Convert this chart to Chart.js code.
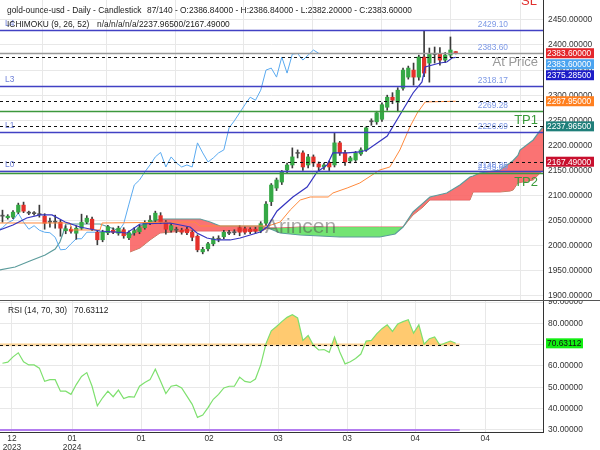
<!DOCTYPE html>
<html>
<head>
<meta charset="utf-8">
<script src="https://cdn.jsdelivr.net/npm/chart.js@4.4.1/dist/chart.umd.min.js"></script>
<style>
body { margin: 0; background: #fff; }
#wrap { position: relative; width: 600px; height: 450px; }
canvas { position: absolute; left: 0; }
#cMain { top: 0; }
#cRsi { top: 300px; }
</style>
</head>
<body>
<div id="wrap">
  <canvas id="cMain" width="600" height="300"></canvas>
  <canvas id="cRsi" width="600" height="150"></canvas>
</div>
<script>
// daily candles, bar 0 .. bar 86 (last one is the live bar)
const opens  = [2059,2056,2057,2067,2081,2067,2066,2063,2059,2047,2047,2047,2030,2033,2025,2035,2047,2053,2027,2012,
                2026,2031,2025,2032,2016,2026,2028,2036,2046,2051,2060,2047,2031,2032,2031,2033,2027,2019,1988,1994,
                2004,2013,2018,2025,2026,2036,2034,2033,2033,2030,2045,2088,2115,2127,2151,2161,2184,2185,2161,2177,
                2163,2157,2165,2161,2205,2185,2169,2171,2183,2191,2247,2247,2252,2276,2296,2286,2314,2336,2350,2336,
                2376,2364,2381,2382,2370,2380,2386.84];
const highs  = [2071,2062,2070,2085,2087,2069,2068,2081,2064,2055,2061,2051,2040,2038,2040,2063,2060,2057,2030,2031,
                2041,2036,2039,2036,2030,2036,2042,2050,2060,2069,2066,2050,2044,2037,2035,2037,2030,2022,1997,2007,
                2018,2020,2031,2031,2032,2040,2038,2036,2037,2048,2088,2124,2135,2150,2165,2195,2191,2189,2182,2181,
                2167,2165,2169,2225,2208,2190,2178,2188,2195,2237,2253,2268,2285,2300,2305,2315,2354,2358,2364,2380,
                2429.1,2394,2396,2395,2385,2416,2386.84];
const lows   = [2047,2053,2054,2064,2066,2062,2061,2057,2033,2037,2035,2019,2024,2025,2013,2032,2044,2030,2002,2008,
                2022,2024,2021,2015,2012,2021,2024,2033,2042,2047,2044,2023,2027,2026,2023,2022,2010,1988,1984,1990,
                2000,2008,2014,2022,2022,2020,2023,2024,2025,2026,2040,2080,2110,2122,2145,2155,2175,2150,2155,2158,
                2150,2152,2150,2157,2180,2160,2165,2168,2180,2188,2240,2242,2248,2270,2283,2267,2310,2332,2320,2330,
                2337,2326,2364,2360,2365,2376,2382.2];
const closes = [2060,2059,2067,2081,2069,2065,2064,2062,2045,2047,2049,2035,2034,2029,2035,2047,2055,2033,2012,2027,
                2038,2027,2035,2020,2026,2030,2036,2046,2051,2065,2047,2033,2040,2031,2027,2026,2017,1992,1993,2004,
                2014,2014,2027,2027,2027,2027,2027,2028,2029,2044,2083,2121,2131,2147,2161,2177,2186,2157,2177,2165,
                2157,2161,2157,2205,2185,2167,2175,2185,2191,2235,2249,2265,2281,2296,2290,2310,2350,2354,2336,2376,
                2344,2382,2383,2370,2380,2390,2383.6];

// ichimoku lines, [bar, price]
const tenkan = [[-0.5,2031.5],[2.0,2041.4],[4.6,2055.4],[7.1,2061.4],[9.4,2061.4],[11.9,2047.4],[14.7,2037.4],
                [18.5,2029.5],[23.6,2025.5],[26.1,2043.4],[31.8,2045.4],[35.6,2037.4],[36.9,2025.5],[38.8,2015.5],
                [40.7,2011.6],[43.2,2011.6],[45.1,2015.5],[47.0,2021.5],[48.9,2027.5],[50.2,2037.4],[52.1,2069.3],
                [55.1,2097.2],[57.8,2117.1],[59.7,2147.0],[61.6,2161.0],[62.7,2184.9],[65.4,2184.9],[67.8,2186.9],
                [69.2,2190.8],[71.1,2204.8],[73.0,2218.7],[75.4,2260.6],[77.9,2304.4],[79.6,2326.3],[80.2,2356.2],
                [83.0,2364.1],[84.3,2366.1],[85.3,2374.1],[86,2375.285]];
const kijun  = [[-0.5,2045.4],[12.8,2045.4],[13.2,2031.5],[18.5,2031.5],[18.9,2045.4],[36.5,2047.4],[37.5,2039.4],
                [50.4,2039.4],[52.7,2047.4],[54.6,2071.3],[56.5,2091.2],[58.4,2097.2],[61.8,2097.2],[62.7,2105.2],
                [65.4,2115.1],[67.8,2125.1],[71.6,2151.0],[73.5,2157.0],[75.4,2190.8],[77.3,2236.7],[78.7,2264.5],
                [80.2,2286.5],[86,2287.95]];
const spanAEarly = [[-0.5,1951.8],[2.4,1957.8],[5.2,1969.7],[8.1,1981.7],[10.0,1993.6],[10.9,2007.6],[11.5,2025.5],
                    [12.0,2043.4],[18.5,2043.4],[22.3,2029.5],[24.2,2019.5]];
const cloudX = [24.2,26.1,28.0,29.9,34.6,37.5,39.4,41.3,49.2,50.4,52.7,56.5,64.0,71.6,74.5,76.0,77.9,79.8,81.1,84.3,
                86.8,88.7,89.3,90.6,94.4,96.3,96.9,97.8,98.2,100.7,102.6,112];
const spanA  = [2019.5,2039.4,2047.4,2053.4,2053.4,2053.4,2047.4,2039.4,2039.4,2035.5,2025.5,2021.5,2017.5,2017.5,
                2023.5,2037.4,2067.3,2085.0,2097.2,2105.2,2121.1,2137.1,2139.0,2145.0,2151.0,2164.9,2170.0,2180.0,
                2190.8,2210.8,2237.97,2237.97];
const spanB  = [1987.7,1995.6,2011.6,2025.5,2029.5,2029.5,2029.5,2029.5,2029.5,2035.5,2035.5,2037.4,2037.4,2037.4,
                2037.4,2037.4,2061.4,2077.3,2091.2,2091.2,2091.2,2091.2,2107.2,2107.2,2107.2,2109.0,2111.2,2125.1,
                2126.0,2131.1,2151.0,2167.49];
const chikouShift = 26;

const rsi = [61.3,61.8,64.3,66.2,62.0,60.5,60.5,59.0,52.8,53.6,53.6,48.2,48.2,46.7,51.3,55.1,56.9,50.5,41.3,45.1,
             48.2,45.6,48.7,44.7,45.6,45.4,50.5,52.3,53.6,58.5,52.8,47.1,50.5,51.0,49.7,45.9,42.0,35.9,37.0,40.5,
             44.4,46.7,49.7,50.5,50.5,54.8,52.8,52.3,53.9,60.5,70.5,76.5,78.5,80.8,82.8,84.0,82.5,72.0,74.3,69.7,
             67.5,67.7,66.4,73.6,66.6,61.0,62.0,63.5,65.6,71.7,72.0,75.1,77.5,79.3,76.2,79.7,80.8,81.7,75.4,79.3,
             70.2,72.8,73.6,69.7,70.8,71.7,70.63112];

// horizontal levels
const levelValues = [2429.10, 2383.60, 2318.17, 2269.28, 2226.69, 2148.86, 2145.60];
const levelNames  = ['L4', 'At Price', 'L3', 'TP1', 'L1', 'L0', 'TP2'];
const ichimokuNow = [2375.285, 2287.95, 2237.965, 2167.49];
const tagValues   = [2383.60, 2383.60, 2375.285, 2287.95, 2237.965, 2167.49];
const rsiLevels   = [70, 30];

// x axis ticks (bar positions) and labels
const tickPos    = [1.8, 13.2, 26.3, 39.2, 52.3, 65.4, 78.3, 91.6];
const tickLabels = [['12', '2023'], ['01', '2024'], '01', '02', '03', '03', '04', '04'];

const X_MIN = -0.47, X_MAX = 102.56;
const FONT = '"Liberation Sans", Arial, sans-serif';
const tagColors = ['#e3262b', '#4aa3f0', '#1c1cc8', '#ff7f1e', '#1f7f7a', '#c8102e'];

const pts = arr => arr.map(p => ({ x: p[0], y: p[1] }));

function xAxis(showLabels) {
  return {
    type: 'linear', min: X_MIN, max: X_MAX, offset: false,
    afterBuildTicks: s => { s.ticks = tickPos.map(v => ({ value: v })); },
    afterFit: s => { s.height = showLabels ? 18 : 0; s.paddingLeft = 0; s.paddingRight = 0; },
    grid: { color: '#e8e8e8', drawTicks: false },
    border: { display: showLabels, color: '#333' },
    ticks: {
      display: showLabels, autoSkip: false, maxRotation: 0, padding: 2, color: '#333',
      font: { family: FONT, size: 8.4, lineHeight: 1.1 },
      callback: (v, i) => tickLabels[i]
    }
  };
}

function yAxis(min, max, step) {
  return {
    position: 'right', min: min, max: max,
    afterBuildTicks: s => {
      const t = [];
      for (let v = Math.ceil(min / step) * step; v <= max; v += step) t.push({ value: v });
      s.ticks = t;
    },
    afterFit: s => { s.width = 57; s.paddingTop = 0; s.paddingBottom = 0; },
    grid: { color: '#e8e8e8', drawTicks: false },
    border: { display: true, color: '#333' },
    ticks: {
      autoSkip: false, padding: 5, color: '#333',
      font: { family: FONT, size: 8.4 },
      callback: v => v.toFixed(5)
    }
  };
}

function hline(ctx, x1, x2, y) {
  ctx.beginPath();
  ctx.moveTo(x1, y);
  ctx.lineTo(x2, y);
  ctx.stroke();
}

function tag(ctx, text, y, bg, fg, w) {
  ctx.fillStyle = bg;
  ctx.fillRect(546, y - 5, w, 10);
  ctx.fillStyle = fg;
  ctx.font = `8.4px ${FONT}`;
  ctx.textAlign = 'left';
  ctx.textBaseline = 'middle';
  ctx.fillText(text, 547, y + 0.5);
}

const mainOverlay = {
  id: 'mainOverlay',
  afterDatasetsDraw(chart) {
    const { ctx, chartArea: a, scales: { y } } = chart;
    ctx.save();
    ctx.font = `21px ${FONT}`;
    ctx.fillStyle = 'rgba(80,80,80,0.5)';
    ctx.textAlign = 'left';
    ctx.textBaseline = 'middle';
    ctx.fillText('Arincen', 265, 227);

    ctx.lineWidth = 1;
    ctx.strokeStyle = '#111';
    ctx.setLineDash([3, 3]);
    ichimokuNow.forEach(v => hline(ctx, a.left, a.right, Math.round(y.getPixelForValue(v)) + 0.5));
    ctx.setLineDash([]);

    levelValues.forEach((v, k) => {
      const name = levelNames[k];
      const py = Math.round(y.getPixelForValue(v)) + 0.5;
      const isTP = name.startsWith('TP');
      const isPrice = name === 'At Price';
      ctx.strokeStyle = isTP ? '#3c983c' : isPrice ? '#9a9a9a' : '#4141c4';
      ctx.lineWidth = 1.3;
      hline(ctx, a.left, a.right, py);
      ctx.font = `8.4px ${FONT}`;
      ctx.fillStyle = '#7d99e6';
      ctx.textAlign = 'right';
      ctx.textBaseline = 'bottom';
      ctx.fillText(v.toFixed(2), 508, py - 2);
      if (isTP || isPrice) {
        ctx.font = `13px ${FONT}`;
        ctx.fillStyle = isTP ? '#3a9a3a' : '#9a9a9a';
        ctx.textBaseline = 'top';
        ctx.fillText(name, 538, py + 2);
      } else {
        ctx.font = `8.4px ${FONT}`;
        ctx.fillStyle = '#6f80d8';
        ctx.textAlign = 'left';
        ctx.fillText(name, 5, py - 3);
      }
    });
    ctx.restore();
  },
  afterDraw(chart) {
    const { ctx, scales: { y } } = chart;
    ctx.save();
    ctx.font = `8.4px ${FONT}`;
    ctx.fillStyle = '#222';
    ctx.textAlign = 'left';
    ctx.textBaseline = 'middle';
    ctx.fillText('gold-ounce-usd - Daily - Candlestick', 7, 11);
    ctx.fillText('87/140 - O:2386.84000 - H:2386.84000 - L:2382.20000 - C:2383.60000', 147, 11);
    ctx.fillText('ICHIMOKU (9, 26, 52)', 7, 25);
    ctx.fillText('n/a/n/a/n/a/2237.96500/2167.49000', 97, 25);

    ctx.fillStyle = '#333';
    ctx.fillText('2500.00000', 548, -3);

    ctx.font = `13px ${FONT}`;
    ctx.fillStyle = '#e0302e';
    ctx.textAlign = 'right';
    ctx.textBaseline = 'bottom';
    ctx.fillText('SL', 537, 8);

    // price tags on the axis, pushed down when they would overlap
    let prev = -100;
    tagValues.forEach((v, k) => {
      const py = Math.max(y.getPixelForValue(v), prev + 11);
      prev = py;
      tag(ctx, v.toFixed(5), py, tagColors[k], '#fff', 48);
    });
    ctx.restore();
  }
};

const rsiOverlay = {
  id: 'rsiOverlay',
  beforeDatasetsDraw(chart) {
    const { ctx, chartArea: a, scales: { x, y } } = chart;
    const xEnd = x.getPixelForValue(rsi.length - 1) + 4;
    ctx.save();
    ctx.strokeStyle = 'rgba(255,196,110,0.55)';
    ctx.lineWidth = 3;
    hline(ctx, a.left, xEnd, y.getPixelForValue(rsiLevels[0]));
    ctx.restore();
  },
  afterDatasetsDraw(chart) {
    const { ctx, chartArea: a, scales: { x, y } } = chart;
    const xEnd = x.getPixelForValue(rsi.length - 1) + 4;
    ctx.save();
    ctx.strokeStyle = '#111';
    ctx.lineWidth = 1;
    ctx.setLineDash([3, 3]);
    hline(ctx, a.left, xEnd, Math.round(y.getPixelForValue(rsiLevels[0])) + 0.5);
    ctx.setLineDash([]);
    ctx.strokeStyle = '#b37cf0';
    ctx.lineWidth = 2;
    hline(ctx, a.left, xEnd, y.getPixelForValue(rsiLevels[1]));
    ctx.restore();
  },
  afterDraw(chart) {
    const { ctx, scales: { y } } = chart;
    ctx.save();
    ctx.strokeStyle = '#555';
    ctx.lineWidth = 1;
    hline(ctx, 0, 600, 0.5);
    ctx.font = `8.4px ${FONT}`;
    ctx.fillStyle = '#222';
    ctx.textAlign = 'left';
    ctx.textBaseline = 'middle';
    ctx.fillText('RSI (14, 70, 30)', 8, 11);
    ctx.fillText(rsi[rsi.length - 1].toFixed(5), 74, 11);
    const last = rsi[rsi.length - 1];
    tag(ctx, last.toFixed(5), y.getPixelForValue(last), '#12ee12', '#111', 37);
    ctx.restore();
  }
};

new Chart(document.getElementById('cMain'), {
  type: 'bar',
  data: {
    datasets: [
      {
        type: 'line', label: 'spanA', order: 10,
        data: cloudX.map((v, i) => ({ x: v, y: spanA[i] })),
        borderColor: '#5c9c9c', borderWidth: 1.2, pointRadius: 0,
        fill: { target: 1, above: 'rgba(250,100,100,0.9)', below: 'rgba(100,225,100,0.9)' }
      },
      {
        type: 'line', label: 'spanB', order: 10,
        data: cloudX.map((v, i) => ({ x: v, y: spanB[i] })),
        borderColor: 'rgba(215,80,80,0.9)', borderWidth: 1, pointRadius: 0, fill: false
      },
      {
        type: 'line', label: 'spanA early', order: 9,
        data: pts(spanAEarly),
        borderColor: '#5c9c9c', borderWidth: 1.2, pointRadius: 0, fill: false
      },
      {
        type: 'line', label: 'chikou', order: 8,
        data: closes.map((c, i) => ({ x: i - chikouShift, y: c })),
        borderColor: '#5aaaf0', borderWidth: 1, pointRadius: 0, fill: false
      },
      {
        label: 'wicks', order: 4, grouped: false,
        data: closes.map((c, i) => ({ x: i, y: [lows[i], highs[i]] })),
        backgroundColor: '#3a3a3a', barThickness: 1
      },
      {
        label: 'bodies', order: 3, grouped: false,
        data: closes.map((c, i) => ({ x: i, y: [opens[i], c] })),
        backgroundColor: closes.map((c, i) => Math.abs(c - opens[i]) <= 2 ? '#555' : (c > opens[i] ? '#35a845' : '#e4312b')),
        barThickness: 3.6, minBarLength: 1
      },
      {
        type: 'line', label: 'kijun', order: 2,
        data: pts(kijun),
        borderColor: '#ff8a3d', borderWidth: 1, pointRadius: 0, fill: false
      },
      {
        type: 'line', label: 'tenkan', order: 1,
        data: pts(tenkan),
        borderColor: '#3535c0', borderWidth: 1.2, pointRadius: 0, fill: false
      }
    ]
  },
  options: {
    responsive: false, animation: false,
    layout: { padding: 0 },
    plugins: { legend: { display: false }, tooltip: { enabled: false } },
    scales: { x: xAxis(false), y: yAxis(1892.0, 2489.64, 50) }
  },
  plugins: [mainOverlay]
});

new Chart(document.getElementById('cRsi'), {
  type: 'line',
  data: {
    datasets: [{
      label: 'RSI',
      data: rsi.map((v, i) => ({ x: i, y: v })),
      borderColor: '#7ee06e', borderWidth: 1.2, pointRadius: 0,
      fill: { target: { value: rsiLevels[0] }, above: 'rgba(255,196,96,0.9)', below: 'rgba(0,0,0,0)' }
    }]
  },
  options: {
    responsive: false, animation: false,
    layout: { padding: 0 },
    plugins: { legend: { display: false }, tooltip: { enabled: false } },
    scales: { x: xAxis(true), y: yAxis(29.06, 90.94, 10) }
  },
  plugins: [rsiOverlay]
});
</script>
</body>
</html>
